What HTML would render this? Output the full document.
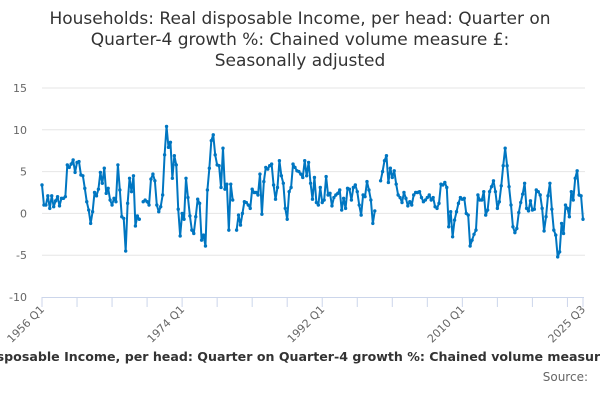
<!DOCTYPE html>
<html><head><meta charset="utf-8"><style>
body{margin:0;background:#fff;}
svg{display:block;font-family:"DejaVu Sans","Liberation Sans",sans-serif;}
</style></head><body>
<svg id="chart" width="600" height="400" viewBox="0 0 600 400">
<g fill="#333" font-size="17" text-anchor="middle">
<text x="300" y="24">Households: Real disposable Income, per head: Quarter on</text>
<text x="300" y="45">Quarter-4 growth %: Chained volume measure £:</text>
<text x="300" y="66">Seasonally adjusted</text>
</g>
<g id="grid"></g>
<g id="yaxis"></g>
<g id="xaxis"></g>
<g id="series"></g>
<text x="315" y="361" text-anchor="middle" font-size="12.6" font-weight="bold" fill="#333">Households: Real disposable Income, per head: Quarter on Quarter-4 growth %: Chained volume measure £: Seasonally adjusted</text>
<text x="588" y="381" text-anchor="end" font-size="12" fill="#666">Source:</text>
</svg>
<script>
const startYear = 1956;
const yTicks = [15, 10, 5, 0, -5, -10];
const xLabels = ["1956 Q1", "1974 Q1", "1992 Q1", "2010 Q1", "2025 Q3"];
const xLabelIndex = [0, 72, 144, 216, 278];
const values = [
3.4,1.0,1.0,2.1,0.6,2.1,0.8,1.5,2.0,0.9,1.8,1.8,2.0,5.8,5.5,5.9,6.4,4.9,6.1,6.2,
4.6,4.5,3.0,1.4,0.4,-1.2,0.2,2.5,2.1,2.9,4.9,3.6,5.4,2.4,3.0,1.6,1.0,1.8,1.4,5.8,
2.8,-0.4,-0.6,-4.5,1.2,4.2,2.6,4.5,-1.5,-0.3,-0.7,null,1.4,1.6,
1.4,1.0,4.1,4.7,3.9,1.0,0.2,0.8,2.2,7.0,10.4,7.9,8.5,4.2,6.9,5.8,0.5,-2.7,0,-0.7,
4.2,1.9,-0.3,-2.0,-2.4,-0.4,1.7,1.2,-3.2,-2.6,-3.9,2.8,5.4,8.7,9.4,7.0,5.8,5.7,3.1,7.8,
2.9,3.5,-2.0,3.5,1.6,null,-2.0,-0.2,-1.4,0,1.4,1.3,1.0,0.6,2.9,2.5,2.5,
2.2,4.7,-0.1,
3.8,5.5,5.3,5.7,5.9,3.4,1.7,3.1,6.3,4.5,3.6,0.6,-0.7,2.6,3.1,5.9,5.5,5.1,5.0,4.7,
4.3,6.3,4.5,6.1,3.6,1.7,4.3,1.3,1.0,3.1,1.3,1.6,4.4,2.2,2.4,0.9,1.9,2.2,2.4,2.8,
0.4,1.8,0.6,3.0,2.9,1.6,3.1,3.4,2.6,1.0,-0.2,2.2,2.0,3.8,
2.8,1.6,-1.2,0.3,null,null,
3.9,5.0,6.3,6.9,3.7,5.4,4.3,5.1,3.5,2.2,1.9,1.3,2.5,1.8,0.9,1.4,1.0,2.2,2.5,2.5,
2.6,1.9,1.4,1.6,1.9,2.2,1.6,1.9,0.8,0.6,1.2,3.5,3.4,3.7,3.1,-1.6,0.2,-2.8,-0.8,0.2,
1.2,1.9,1.7,1.8,0,-0.2,
-3.9,-3.2,-2.5,
-2.0,2.2,1.6,1.6,2.6,-0.2,0.4,2.6,3.2,3.9,2.6,0.6,1.4,3.3,5.7,7.8,5.7,3.2,1.0,-1.6,
-2.3,-1.8,0.1,1.3,2.3,3.6,0.6,0.3,1.5,0.4,0.5,2.8,2.6,2.2,0.6,-2.1,-0.4,2.1,3.6,0.5,
-2.0,-2.6,-5.2,-4.6,-1.2,-2.4,1.0,0.6,-0.4,2.6,1.6,4.2,5.1,2.2,2.1,-0.7
];
const NS = "http://www.w3.org/2000/svg";
const X0 = 42, X1 = 583, YTOP = 88, YBOT = 297, VMAX = 15, VMIN = -10;
const n = values.length;
function xPos(i){ return X0 + (X1 - X0) * i / (n - 1); }
function yPos(v){ return YTOP + (VMAX - v) * (YBOT - YTOP) / (VMAX - VMIN); }
function mk(tag, attrs, parent){ const e = document.createElementNS(NS, tag); for (const k in attrs) e.setAttribute(k, attrs[k]); parent.appendChild(e); return e; }

const grid = document.getElementById('grid');
const yaxis = document.getElementById('yaxis');
yTicks.forEach(t => {
  if (t !== VMIN) {
    const l = mk('line', {x1: X0, x2: X1 + 2, y1: yPos(t), y2: yPos(t), stroke: '#e6e6e6', 'stroke-width': 1}, grid);
    
    
  }
  const tx = mk('text', {x: 27, y: yPos(t) + 4, 'text-anchor': 'end', 'font-size': 11, fill: '#666'}, yaxis);
  tx.textContent = t;
  
  
});

const xaxis = document.getElementById('xaxis');
const axl = mk('line', {x1: X0, x2: X1 + 1, y1: YBOT + 0.5, y2: YBOT + 0.5, stroke: '#ccd6eb', 'stroke-width': 1}, xaxis);


for (let i = 0; i < n - 1; i += 18) {
  const tk = mk('line', {x1: xPos(i), x2: xPos(i), y1: YBOT, y2: YBOT + 10, stroke: '#ccd6eb', 'stroke-width': 1}, xaxis);
  
  
}
const tkl = mk('line', {x1: xPos(n - 1), x2: xPos(n - 1), y1: YBOT, y2: YBOT + 10, stroke: '#ccd6eb', 'stroke-width': 1}, xaxis);


xLabels.forEach((lab, k) => {
  const x = xPos(xLabelIndex[k]) + 3, y = YBOT + 13;
  const tx = mk('text', {x: x, y: y, 'text-anchor': 'end', 'font-size': 11, fill: '#666', transform: 'rotate(-45 ' + x + ' ' + y + ')'}, xaxis);
  tx.textContent = lab;
  
  
});

const series = document.getElementById('series');
let seg = [];
function flush(){
  if (seg.length > 1) {
    const p = mk('polyline', {points: seg.join(' '), fill: 'none', stroke: '#0076c1', 'stroke-width': 2, 'stroke-linejoin': 'round'}, series);
    
    
  }
  seg = [];
}
values.forEach((v, i) => {
  if (v === null) { flush(); return; }
  seg.push(xPos(i).toFixed(2) + ',' + yPos(v).toFixed(2));
});
flush();
values.forEach((v, i) => {
  if (v === null) return;
  const c = mk('circle', {cx: xPos(i), cy: yPos(v), r: 1.7, fill: '#0076c1'}, series);
  
  
});
</script>
</body></html>
